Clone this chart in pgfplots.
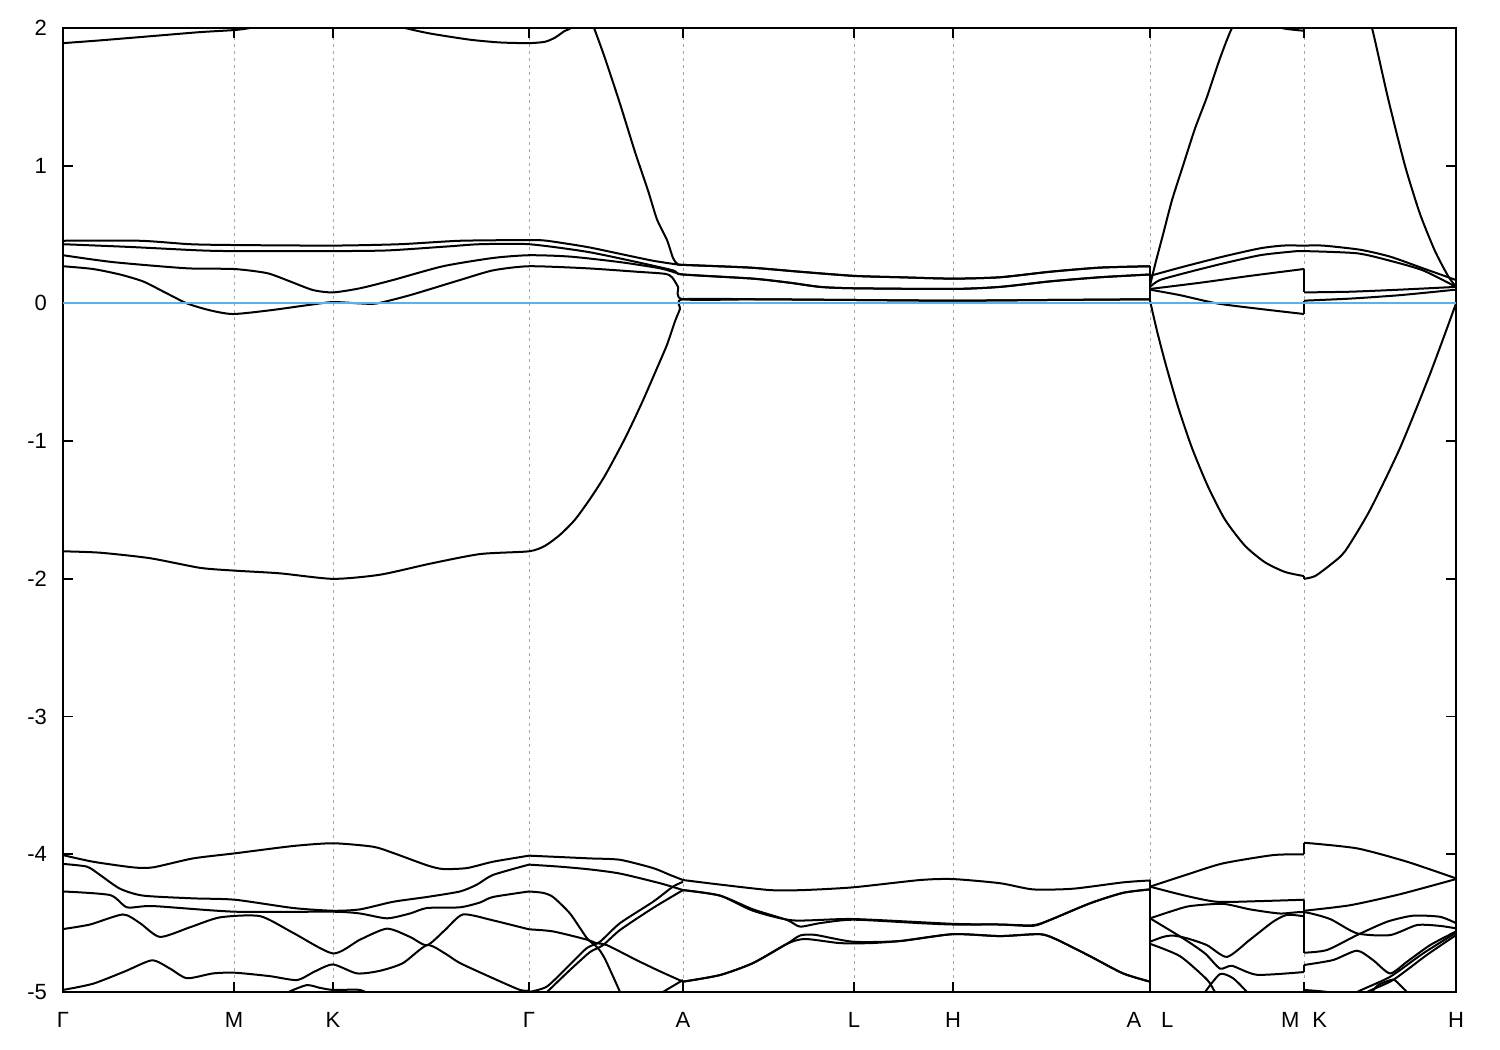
\documentclass[border=0pt]{standalone}
\usepackage{fontspec}
\setmainfont{Liberation Sans}
\usepackage{pgfplots}
\pgfplotsset{compat=1.18}
\definecolor{fermi}{HTML}{56B4E9}
\begin{document}
\begin{tikzpicture}
\path[use as bounding box] (-31.5pt,-29pt) rectangle (718.5pt,496pt);
\begin{axis}[
  at={(0pt,0pt)}, anchor=south west,
  scale only axis, width=696.5pt, height=482pt,
  xmin=63, xmax=1456, ymin=-5, ymax=2,
  xtick={63,234,333,529,683,854,953,1150,1304,1456},
  xticklabels={Γ,M,K,Γ,A,L,H,{A\hspace{10pt}L},{M\hspace{6.5pt}K},H},
  ytick={-5,-4,-3,-2,-1,0,1,2},
  yticklabels={-5,-4,-3,-2,-1,0,1,2},
  tick align=inside, major tick length=5pt,
  xtick pos=both, ytick pos=both,
  xmajorgrids, grid style={gray!70, line width=0.5pt, dash pattern=on 1.5pt off 2pt},
  axis line style={line width=1pt},
  tick style={black, line width=0.8pt},
  ticklabel style={font=\fontsize{11}{13}\selectfont},
  xticklabel style={yshift=-6.5pt},
  yticklabel style={xshift=-4.5pt},
  unbounded coords=jump,
  band/.style={black, line width=1pt, line join=round, no markers, smooth, tension=0.4},
  jumpline/.style={black, line width=1pt, no markers},
]
% ---------------- upper group ----------------
\addplot[band] coordinates {(63,1.89)(100,1.91)(150,1.94)(200,1.97)(234,1.985)(250,2.0)(290,2.06)(333,2.08)(380,2.05)(405,2.0)(430,1.96)(470,1.915)(500,1.895)(529,1.89)(545,1.90)(555,1.93)(565,1.98)(571,2.0)(580,2.1)};
\addplot[band] coordinates {(585,2.15)(594,2.0)(605,1.78)(620,1.45)(635,1.1)(648,0.82)(657,0.61)(667,0.46)(673,0.33)(677,0.29)(683,0.28)
 (750,0.26)(800,0.23)(854,0.20)(900,0.19)(953,0.18)(1000,0.19)(1050,0.23)(1100,0.26)(1150,0.27)(1150,nan)
 (1150,0.2)(1180,0.26)(1223,0.34)(1260,0.40)(1283,0.42)(1304,0.42)
 (1323,0.42)(1360,0.39)(1390,0.34)(1423,0.255)(1456,0.17)};
\addplot[band] coordinates {(63,0.455)(140,0.455)(190,0.43)(234,0.424)(333,0.42)(400,0.43)(460,0.455)(529,0.46)(547,0.455)(587,0.41)(620,0.36)(653,0.31)(680,0.28)(683,0.28)
 (750,0.26)(800,0.23)(854,0.20)(900,0.19)(953,0.18)(1000,0.19)(1050,0.23)(1100,0.26)(1150,0.27)(1150,nan)
 (1150,0.13)(1155,0.28)(1163,0.5)(1172,0.75)(1183,1.0)(1195,1.27)(1207,1.5)(1220,1.78)(1232,2.0)(1245,2.12)(1265,2.08)(1280,2.005)(1290,1.99)(1304,1.98)(1304,nan)
 (1304,2.4)(1350,2.3)(1365,2.12)(1372,2.0)(1388,1.49)(1405,1.0)(1420,0.65)(1435,0.38)(1448,0.2)(1456,0.12)};
\addplot[band] coordinates {(63,0.43)(130,0.41)(200,0.385)(234,0.38)(333,0.38)(388,0.385)(450,0.415)(480,0.43)(529,0.43)(587,0.375)(637,0.30)(673,0.24)(683,0.21)
 (753,0.18)(790,0.15)(820,0.12)(854,0.11)(953,0.105)(1000,0.12)(1050,0.16)(1100,0.19)(1150,0.21)(1150,nan)
 (1150,0.12)(1160,0.17)(1190,0.23)(1223,0.29)(1260,0.35)(1290,0.375)(1304,0.38)
 (1357,0.364)(1390,0.31)(1423,0.24)(1456,0.12)};
\addplot[band] coordinates {(63,0.35)(113,0.30)(187,0.255)(234,0.25)(267,0.22)(290,0.16)(313,0.097)(333,0.08)(360,0.11)(393,0.17)(443,0.27)(493,0.33)(529,0.35)(570,0.34)(620,0.30)(660,0.255)(677,0.22)(683,0.21)
 (753,0.18)(790,0.15)(820,0.12)(854,0.11)(953,0.105)(1000,0.12)(1050,0.16)(1100,0.19)(1150,0.21)(1150,nan)
 (1150,0.105)(1200,0.15)(1250,0.2)(1304,0.25)(1304,nan)
 (1304,0.08)(1350,0.085)(1400,0.10)(1456,0.12)};
\addplot[band] coordinates {(63,0.27)(93,0.25)(120,0.21)(143,0.16)(165,0.08)(187,0.0)(210,-0.05)(233,-0.077)(270,-0.05)(310,-0.01)(333,0.01)(360,0.0)(377,0.0)(410,0.06)(460,0.17)(493,0.24)(529,0.27)(587,0.255)(637,0.23)(665,0.215)(672,0.19)(678,0.12)(683,0.03)
 (760,0.03)(854,0.025)(953,0.02)(1050,0.025)(1150,0.03)(1150,nan)
 (1150,0.10)(1180,0.06)(1217,0.0)(1260,-0.04)(1304,-0.077)(1304,nan)
 (1304,0.02)(1350,0.035)(1400,0.06)(1456,0.10)};
\addplot[band] coordinates {(63,-1.80)(100,-1.81)(150,-1.85)(200,-1.92)(234,-1.94)(280,-1.96)(333,-2.0)(380,-1.97)(430,-1.89)(480,-1.82)(529,-1.80)
 (545,-1.76)(560,-1.68)(575,-1.57)(590,-1.42)(605,-1.25)(625,-0.98)(642,-0.72)(657,-0.47)(667,-0.3)(675,-0.13)(680,-0.04)(683,0.03)
 (760,0.03)(854,0.025)(953,0.02)(1050,0.025)(1150,0.03)(1150,nan)
 (1150,0.02)(1157,-0.2)(1166,-0.45)(1178,-0.75)(1192,-1.05)(1208,-1.33)(1225,-1.57)(1245,-1.76)(1265,-1.88)(1285,-1.95)(1304,-1.98)(1304,nan)
 (1304,-2.0)(1315,-1.98)(1330,-1.9)(1345,-1.8)(1370,-1.5)(1400,-1.05)(1428,-0.55)(1445,-0.22)(1456,0.0)};
\addplot[jumpline] coordinates {(1150,0.27)(1150,0.02)};
\addplot[jumpline] coordinates {(1304,0.25)(1304,0.08)};
\addplot[jumpline] coordinates {(1304,-0.077)(1304,0.02)};
\addplot[jumpline] coordinates {(1304,-1.98)(1304,-2.0)};
\addplot[jumpline] coordinates {(1304,1.98)(1304,2.1)};
% ---------------- lower group: Gamma-M-K-Gamma ----------------
\addplot[band] coordinates {(63,-4.006)(93,-4.054)(133,-4.095)(153,-4.095)(193,-4.03)(235,-3.993)(293,-3.94)(333,-3.92)(373,-3.945)(393,-3.99)(427,-4.08)(443,-4.107)(467,-4.10)(493,-4.054)(529,-4.01)};
\addplot[band] coordinates {(63,-4.07)(87,-4.09)(100,-4.15)(120,-4.25)(143,-4.30)(193,-4.32)(235,-4.33)(293,-4.39)(333,-4.41)(360,-4.40)(393,-4.345)(427,-4.31)(460,-4.27)(477,-4.22)(493,-4.15)(529,-4.075)};
\addplot[band] coordinates {(63,-4.27)(110,-4.296)(127,-4.385)(153,-4.376)(235,-4.417)(333,-4.417)(360,-4.43)(387,-4.465)(410,-4.43)(427,-4.39)(460,-4.385)(480,-4.35)(493,-4.31)(529,-4.27)};
\addplot[band] coordinates {(63,-4.543)(90,-4.51)(123,-4.437)(140,-4.50)(160,-4.60)(190,-4.53)(220,-4.458)(260,-4.449)(293,-4.57)(333,-4.72)(360,-4.62)(387,-4.54)(410,-4.60)(427,-4.66)(445,-4.55)(463,-4.437)(493,-4.48)(529,-4.545)};
\addplot[band] coordinates {(63,-4.985)(93,-4.94)(125,-4.85)(152,-4.77)(170,-4.83)(187,-4.90)(213,-4.865)(235,-4.86)(270,-4.885)(297,-4.913)(315,-4.85)(333,-4.80)(357,-4.865)(380,-4.846)(403,-4.79)(427,-4.66)(445,-4.72)(460,-4.79)(493,-4.90)(520,-4.985)(529,-4.99)};
\addplot[band] coordinates {(283,-5.03)(290,-4.995)(307,-4.95)(320,-4.97)(333,-4.985)(360,-4.985)(372,-5.03)};
% ---------------- lower group: Gamma-A ----------------
\addplot[band] coordinates {(529,-4.01)(560,-4.02)(590,-4.03)(620,-4.04)(653,-4.10)(670,-4.15)(683,-4.187)};
\addplot[band] coordinates {(529,-4.075)(560,-4.09)(590,-4.11)(620,-4.14)(660,-4.21)(683,-4.26)};
\addplot[band] coordinates {(529,-4.27)(543,-4.28)(553,-4.31)(570,-4.43)(587,-4.61)(595,-4.66)(600,-4.70)(605,-4.76)(612,-4.87)(620,-5.0)(622,-5.04)};
\addplot[band] coordinates {(529,-4.545)(553,-4.56)(587,-4.62)(596,-4.645)(607,-4.66)(637,-4.77)(660,-4.85)(683,-4.925)};
\addplot[band] coordinates {(529,-5.0)(547,-4.96)(570,-4.80)(587,-4.68)(600,-4.635)(620,-4.50)(653,-4.345)(673,-4.235)(683,-4.20)};
\addplot[band] coordinates {(543,-5.03)(547,-5.0)(570,-4.84)(590,-4.71)(603,-4.66)(620,-4.55)(653,-4.39)(683,-4.26)};
\addplot[band] coordinates {(660,-5.02)(663,-5.0)(683,-4.913)};
% ---------------- lower group: A-L-H-A | L-M | K-H ----------------
\addplot[band] coordinates {(683,-4.187)(720,-4.22)(770,-4.26)(803,-4.26)(853,-4.24)(920,-4.187)(953,-4.18)(1000,-4.21)(1033,-4.255)(1073,-4.25)(1123,-4.204)(1150,-4.19)(1150,nan)
 (1150,-4.235)(1190,-4.14)(1223,-4.066)(1273,-4.006)(1304,-4.0)(1304,nan)
 (1304,-3.916)(1357,-3.957)(1407,-4.054)(1456,-4.175)};
\addplot[band] coordinates {(683,-4.26)(720,-4.30)(753,-4.40)(787,-4.477)(800,-4.525)(820,-4.50)(853,-4.475)(920,-4.50)(953,-4.51)(1000,-4.51)(1033,-4.52)(1050,-4.477)(1090,-4.356)(1123,-4.28)(1150,-4.255)(1150,nan)
 (1150,-4.235)(1185,-4.30)(1217,-4.345)(1260,-4.34)(1304,-4.33)(1304,nan)
 (1304,-4.41)(1350,-4.37)(1400,-4.29)(1456,-4.18)};
\addplot[band] coordinates {(683,-4.26)(720,-4.30)(753,-4.41)(793,-4.48)(853,-4.47)(953,-4.505)(1000,-4.51)(1033,-4.515)(1050,-4.477)(1090,-4.356)(1123,-4.28)(1150,-4.255)(1150,nan)
 (1150,-4.465)(1173,-4.41)(1190,-4.376)(1223,-4.36)(1250,-4.40)(1280,-4.43)(1304,-4.42)
 (1330,-4.47)(1357,-4.574)(1390,-4.587)(1417,-4.514)(1440,-4.52)(1456,-4.538)};
\addplot[band] coordinates {(683,-4.925)(720,-4.877)(753,-4.79)(787,-4.65)(800,-4.59)(815,-4.585)(853,-4.635)(900,-4.63)(953,-4.58)(1000,-4.594)(1040,-4.58)(1057,-4.62)(1090,-4.74)(1123,-4.865)(1150,-4.925)(1150,nan)
 (1150,-4.465)(1183,-4.61)(1205,-4.72)(1220,-4.83)(1232,-4.81)(1257,-4.875)(1304,-4.855)(1304,nan)
 (1304,-4.804)(1333,-4.768)(1357,-4.70)(1373,-4.768)(1390,-4.865)(1407,-4.78)(1430,-4.66)(1456,-4.56)};
\addplot[band] coordinates {(683,-4.925)(720,-4.877)(753,-4.79)(787,-4.65)(805,-4.615)(840,-4.645)(870,-4.645)(900,-4.63)(953,-4.58)(1000,-4.594)(1040,-4.58)(1057,-4.62)(1090,-4.74)(1123,-4.865)(1150,-4.925)(1150,nan)
 (1150,-4.635)(1163,-4.60)(1173,-4.59)(1187,-4.61)(1207,-4.66)(1227,-4.745)(1250,-4.62)(1273,-4.49)(1287,-4.44)(1304,-4.45)(1304,nan)
 (1304,-4.715)(1327,-4.695)(1357,-4.587)(1387,-4.49)(1413,-4.446)(1440,-4.454)(1456,-4.50)};
\addplot[band] coordinates {(1150,-4.65)(1180,-4.74)(1207,-4.91)(1215,-5.0)(1225,-5.1)};
\addplot[band] coordinates {(1200,-5.05)(1205,-5.0)(1220,-4.87)(1233,-4.90)(1247,-5.0)(1252,-5.05)};
\addplot[band] coordinates {(1304,-4.985)(1327,-5.0)(1335,-5.03)};
\addplot[band] coordinates {(1350,-5.05)(1357,-5.0)(1390,-4.89)(1423,-4.72)(1456,-4.57)};
\addplot[band] coordinates {(1360,-5.05)(1367,-5.0)(1393,-4.913)(1427,-4.73)(1456,-4.587)};
\addplot[band] coordinates {(1370,-5.02)(1378,-4.95)(1393,-4.91)(1400,-4.95)(1407,-5.0)(1410,-5.03)};
\addplot[jumpline] coordinates {(1150,-4.19)(1150,-5.1)};
\addplot[jumpline] coordinates {(1304,-4.0)(1304,-3.916)};
\addplot[jumpline] coordinates {(1304,-4.33)(1304,-4.715)};
\addplot[jumpline] coordinates {(1304,-4.855)(1304,-4.804)};
\addplot[jumpline] coordinates {(1304,-4.985)(1304,-5.1)};
% Fermi level
\addplot[fermi, line width=1pt, no markers] coordinates {(63,0)(1456,0)};
\end{axis}
\end{tikzpicture}
\end{document}
